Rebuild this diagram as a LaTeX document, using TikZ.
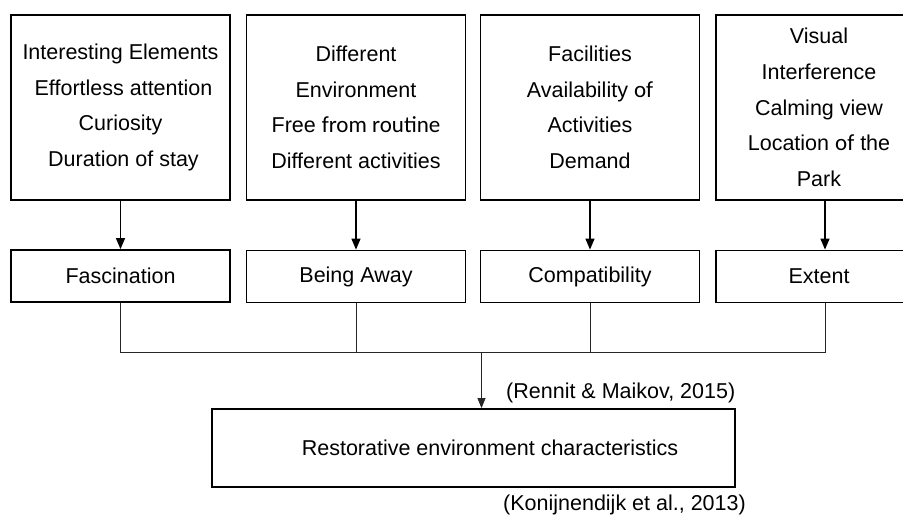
\documentclass[tikz,border=0pt]{standalone}
\usepackage{fontspec}
\setmainfont{Liberation Sans}
\newfontfamily\calibfont{Carlito}
\usetikzlibrary{arrows.meta}
\newcommand\cbf[1]{{\calibfont\fontsize{23bp}{35.6bp}\selectfont #1}}
\begin{document}
\begin{tikzpicture}[x=1bp,y=-1bp,
  bigfont/.style={font=\fontsize{21.5bp}{35.6bp}\selectfont},
  topbox/.style={draw, line width=1.8bp, minimum width=219bp, minimum height=185bp, inner sep=0pt, align=center, bigfont},
  midbox/.style={draw, line width=1.8bp, minimum width=219bp, minimum height=52bp, inner sep=0pt, bigfont},
  botbox/.style={draw, line width=1.8bp, minimum width=523bp, minimum height=78bp, inner sep=0pt},
  lbl/.style={inner sep=0pt, bigfont},
  toparrow/.style={line width=1.4bp, -{Triangle[length=11bp,width=9bp]}},
  busline/.style={line width=0.8bp, draw=black!85},
  busarrow/.style={line width=0.8bp, draw=black!85, -{Triangle[length=10bp,width=8bp]}}
]
\clip (0,0) rectangle (903,515);
\fill[white] (0,0) rectangle (903,515);

% top boxes
\node[topbox] (t1) at (120.5,107.5) {Interesting Elements\\ \ Effortless attention\\Curiosity\\ \ Duration of stay};
\node[topbox] (t2) at (356,107.5) {Different\\Environment\\Free \cbf{from routine}\\Different activities};
\node[topbox] (t3) at (590,107.5) {Facilities\\Availability \cbf{of}\\Activities\\Demand};
\node[topbox, minimum width=206bp] (t4) at (819,107.5) {Visual\\Interference\\Calming view\\Location \cbf{of} the\\Park};

% middle boxes
\node[midbox] (m1) at (120.5,276) {Fascination};
\node[midbox] (m2) at (356,276.5) {Being Away};
\node[midbox] (m3) at (590,276.5) {Compatibility};
\node[midbox, minimum width=206bp] (m4) at (819,276.5) {Extent};

% bottom box
\node[botbox] (rb) at (473.5,448) {};
\node[lbl] (rbt) at (490,448) {Restorative environment characteristics};

% citations
\node[lbl, anchor=west] (cit1) at (506,393) {(Rennit \& Maikov, 2015)};
\node[lbl, anchor=west] (cit2) at (503,505) {(Konijnendijk et al., 2013)};

% arrows from top boxes
\coordinate (c4) at (825,0);
\draw[toparrow] (t1.south) -- (m1.north);
\draw[toparrow] (t2.south) -- (m2.north);
\draw[toparrow] (t3.south) -- (m3.north);
\draw[toparrow] (t4.south -| c4) -- (m4.north -| c4);

% bus
\coordinate (bus) at (0,352);
\coordinate (c5) at (481.5,0);
\draw[busline] (m1.south) |- (c4 |- bus) -- (m4.south -| c4);
\draw[busline] (m2.south) -- (m2.south |- bus);
\draw[busline] (m3.south) -- (m3.south |- bus);
\draw[busarrow] (c5 |- bus) -- (c5 |- rb.north);
\end{tikzpicture}
\end{document}
